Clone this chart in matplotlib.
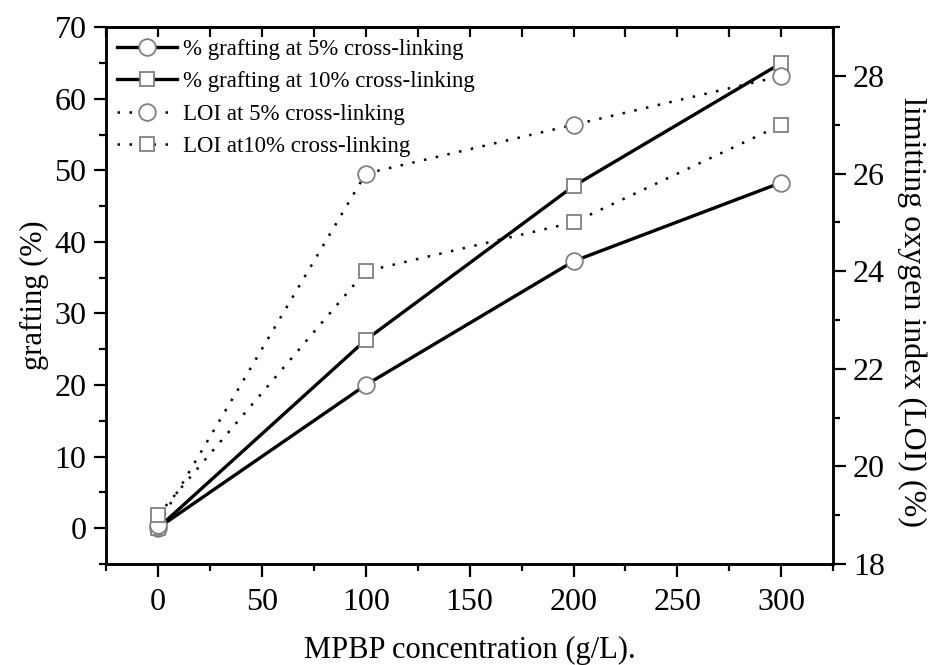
import matplotlib
matplotlib.use("Agg")
import matplotlib.pyplot as plt
from matplotlib.ticker import MultipleLocator

# MPBP concentration (g/L)
conc = [0, 100, 200, 300]

# grafting (%)
graft_5 = [0, 20.0, 37.3, 48.3]
graft_10 = [0, 26.3, 47.8, 65.0]

# limiting oxygen index (%)
loi_5 = [18.8, 26, 27, 28]
loi_10 = [19, 24, 25, 27]

plt.rcParams['font.family'] = ['Liberation Serif', 'DejaVu Serif']

fig = plt.figure(figsize=(9.29, 6.65), dpi=100)
ax = fig.add_axes([0.114, 0.152, 0.783, 0.807])
ax2 = ax.twinx()

mk = dict(markerfacecolor='white', markeredgecolor='#808080', markeredgewidth=1.3)
dots = (0, (1.0, 3.8))

l1, = ax.plot(conc, graft_5, color='black', lw=2.4, marker='o', markersize=12, **mk,
              label='% grafting at 5% cross-linking')
l2, = ax.plot(conc, graft_10, color='black', lw=2.4, marker='s', markersize=10, **mk,
              label='% grafting at 10% cross-linking')
l3, = ax2.plot(conc, loi_5, color='black', lw=1.8, ls=dots, marker='o', markersize=12, **mk,
               label='LOI at 5% cross-linking')
l4, = ax2.plot(conc, loi_10, color='black', lw=1.8, ls=dots, marker='s', markersize=10, **mk,
               label='LOI at10% cross-linking')

ax.set_xlim(-25, 325)
ax.set_ylim(-5, 70)
ax2.set_ylim(18, 29)

ax.xaxis.set_major_locator(MultipleLocator(50))
ax.xaxis.set_minor_locator(MultipleLocator(25))
ax.yaxis.set_major_locator(MultipleLocator(10))
ax.yaxis.set_minor_locator(MultipleLocator(5))
ax2.yaxis.set_major_locator(MultipleLocator(2))
ax2.yaxis.set_minor_locator(MultipleLocator(1))

for a in (ax, ax2):
    for s in a.spines.values():
        s.set_linewidth(1.8)

ax.tick_params(axis='x', which='major', direction='out', length=9, width=1.6,
               labelsize=23, pad=8, top=False)
ax.tick_params(axis='x', which='minor', direction='out', length=5, width=1.6, top=False)
ax.tick_params(axis='y', which='major', direction='out', length=9, width=1.6, labelsize=23, pad=5)
ax.tick_params(axis='y', which='minor', direction='out', length=5, width=1.6)
ax2.tick_params(axis='y', which='major', direction='out', length=9, width=1.6, labelsize=23, pad=5)
ax2.tick_params(axis='y', which='minor', direction='out', length=5, width=1.6)

# inward ticks along the top spine
sec = ax.secondary_xaxis('top')
sec.xaxis.set_major_locator(MultipleLocator(25))
sec.tick_params(direction='in', length=7, width=1.6, labeltop=False)
sec.spines['top'].set_linewidth(1.8)

ax.set_xlabel('MPBP concentration (g/L).', fontsize=22, labelpad=14)
ax.set_ylabel('grafting (%)', fontsize=22, labelpad=4)
ax2.set_ylabel('limitting oxygen index (LOI) (%)', fontsize=23, rotation=270, labelpad=26)
ax2.yaxis.set_label_coords(1.128, 0.47)

ax.legend(handles=[l1, l2, l3, l4], loc='upper left', bbox_to_anchor=(0.0, 1.0),
          frameon=False, fontsize=16.5, numpoints=1, handlelength=2.6,
          handletextpad=0.25, labelspacing=0.5, borderaxespad=0.3, borderpad=0.2)

fig.savefig('out.png', dpi=100)
